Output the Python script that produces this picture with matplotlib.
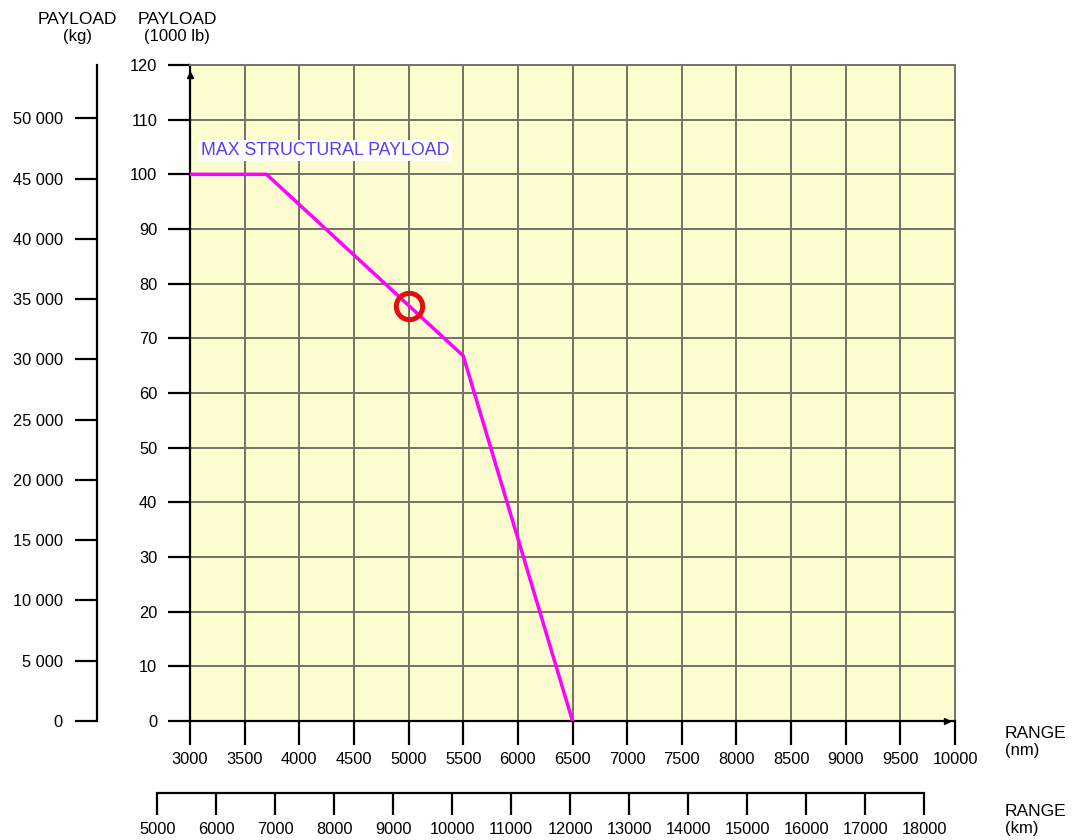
import numpy as np
import matplotlib.pyplot as plt
from matplotlib.ticker import FuncFormatter

plt.rcParams['font.family'] = ['Liberation Sans', 'DejaVu Sans']

# payload-range curve (range in nm, payload in 1000 lb)
range_nm = [3000, 3700, 5500, 6500]
payload_klb = [100, 100, 66.8, 0]
# marked point
mark_nm, mark_klb = 5000, 75.9

x_ticks_nm = np.arange(3000, 10001, 500)
y_ticks_klb = np.arange(0, 121, 10)
kg_ticks = np.arange(0, 50001, 5000)
km_ticks = np.arange(5000, 18001, 1000)

LB_TO_KG = 0.45359237
NM_TO_KM = 1.852
TICK_FS = 11.8

fig = plt.figure(figsize=(10.78, 8.4), dpi=100)
ax = fig.add_axes([190/1078, 119/840, 765/1078, 656/840])
ax.set_facecolor('#fdfdd0')
ax.set_xlim(3000, 10000)
ax.set_ylim(0, 120)

grid_c = '#737366'
for x in x_ticks_nm[1:]:
    ax.axvline(x, color=grid_c, lw=1.4, zorder=1)
for y in y_ticks_klb[1:]:
    ax.axhline(y, color=grid_c, lw=1.4, zorder=1)

for s in ['top', 'right']:
    ax.spines[s].set_color(grid_c)
    ax.spines[s].set_linewidth(1.4)
for s in ['left', 'bottom']:
    ax.spines[s].set_linewidth(1.6)

ax.set_xticks(x_ticks_nm)
ax.set_yticks(y_ticks_klb)
ax.tick_params(axis='x', direction='out', length=17, width=1.6, labelsize=TICK_FS, pad=5)
ax.tick_params(axis='y', direction='out', length=16, width=1.6, labelsize=TICK_FS, pad=7.5)

# arrows on the axes
ax.plot(0, 0.985, '^k', ms=5, transform=ax.transAxes, clip_on=False, zorder=5)
ax.plot(0.99, 0, '>k', ms=5, transform=ax.transAxes, clip_on=False, zorder=5)

ax.plot(range_nm, payload_klb, color='#ff00ff', lw=2.5, zorder=3, solid_joinstyle='miter')
ax.plot(mark_nm, mark_klb, 'o', mfc='none', mec='#e01010', ms=19, mew=3.6, zorder=4)

ax.text(3100, 104.4, 'MAX STRUCTURAL PAYLOAD', color='#5a3cf0', fontsize=12.8,
        va='center', ha='left', zorder=4,
        bbox=dict(boxstyle='square,pad=0.12', fc='white', ec='none'))

# kg axis
ax_kg = ax.secondary_yaxis(-0.1216, functions=(lambda v: v * 1000 * LB_TO_KG,
                                              lambda v: v / (1000 * LB_TO_KG)))
ax_kg.set_yticks(kg_ticks)
ax_kg.yaxis.set_major_formatter(FuncFormatter(lambda v, p: f'{int(v):,}'.replace(',', ' ')))
ax_kg.tick_params(direction='out', length=16, width=1.6, labelsize=TICK_FS, pad=8.5)
ax_kg.spines['left'].set_linewidth(1.6)

# km axis, spanning 5000-18000 km
x0 = ax.transData.transform((5000 / NM_TO_KM, 0))[0]
x1 = ax.transData.transform((18000 / NM_TO_KM, 0))[0]
fw = fig.get_size_inches()[0] * fig.dpi
ax_km = fig.add_axes([x0 / fw, 47/840, (x1 - x0) / fw, 0.001])
ax_km.set_xlim(5000, 18000)
ax_km.set_ylim(0, 1)
ax_km.set_facecolor('none')
for s in ['left', 'right', 'top']:
    ax_km.spines[s].set_visible(False)
ax_km.spines['bottom'].set_linewidth(1.6)
ax_km.set_yticks([])
ax_km.set_xticks(km_ticks)
ax_km.tick_params(axis='x', direction='out', length=16, width=1.6, labelsize=TICK_FS, pad=5)

# axis headers
HEAD_FS = 12.5
fig.text(77/1078, 1 - 20/840, 'PAYLOAD', ha='center', va='center', fontsize=HEAD_FS)
fig.text(77/1078, 1 - 37/840, '(kg)', ha='center', va='center', fontsize=HEAD_FS - 0.5)
fig.text(177/1078, 1 - 20/840, 'PAYLOAD', ha='center', va='center', fontsize=HEAD_FS)
fig.text(177/1078, 1 - 37/840, '(1000 lb)', ha='center', va='center', fontsize=HEAD_FS - 0.5)
fig.text(1005/1078, 1 - 734/840, 'RANGE', ha='left', va='center', fontsize=HEAD_FS)
fig.text(1005/1078, 1 - 750/840, '(nm)', ha='left', va='center', fontsize=HEAD_FS - 0.5)
fig.text(1005/1078, 1 - 812/840, 'RANGE', ha='left', va='center', fontsize=HEAD_FS)
fig.text(1005/1078, 1 - 828/840, '(km)', ha='left', va='center', fontsize=HEAD_FS - 0.5)

fig.savefig('out.png', dpi=100)
